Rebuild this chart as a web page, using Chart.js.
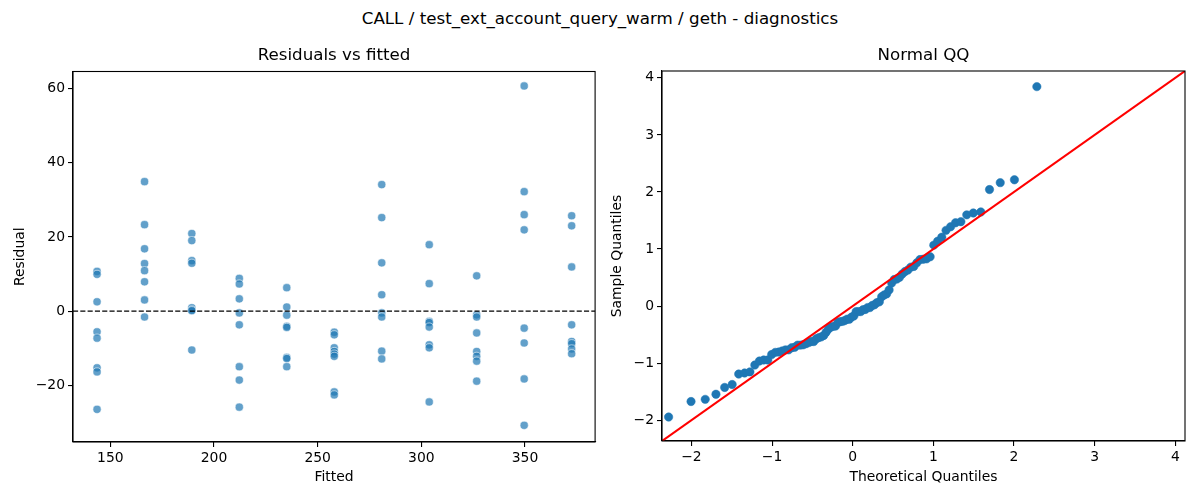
<!DOCTYPE html>
<html>
<head>
<meta charset="utf-8">
<script src="https://cdn.jsdelivr.net/npm/chart.js@4.4.1/dist/chart.umd.min.js"></script>
<style>
  body { margin: 0; background: #fff; font-family: "DejaVu Sans", sans-serif; }
  #page { position: relative; width: 1200px; height: 500px; overflow: hidden; }
  #suptitle { position: absolute; left: 0; top: 8px; width: 1200px; text-align: center;
              font-size: 16.7px; line-height: 20px; color: #000; }
  .box { position: absolute; top: 40px; width: 600px; height: 460px; }
</style>
</head>
<body>
<div id="page">
  <div id="suptitle">CALL / test_ext_account_query_warm / geth - diagnostics</div>
  <div class="box" style="left:0"><canvas id="resid"></canvas></div>
  <div class="box" style="left:600px"><canvas id="qq"></canvas></div>
</div>
<script>
// fitted value of each group (x positions of the columns)
const fitted = [143.6, 166.5, 189.3, 212.2, 235.1, 258.0, 280.9, 303.8, 326.7, 349.6, 372.5];

// residuals, one list per fitted value
const residuals = [
  [10.7, 9.9, 2.5, -5.6, -7.3, -15.3, -16.4, -26.5],
  [34.9, 23.3, 16.8, 12.8, 10.9, 7.9, 3.0, -1.6],
  [20.9, 19.0, 13.6, 12.9, 0.9, 0.3, 0.1, -10.5],
  [8.8, 7.3, 3.3, -0.5, -3.7, -15.0, -18.6, -25.9],
  [6.3, 1.1, -1.1, -4.1, -4.4, -12.5, -12.8, -15.0],
  [-5.7, -6.4, -9.9, -10.9, -11.6, -12.2, -21.8, -22.6],
  [34.1, 25.2, 13.0, 4.4, -0.5, -1.6, -10.8, -12.9],
  [17.9, 7.4, -2.8, -3.1, -4.3, -9.1, -9.9, -24.5],
  [9.5, -1.0, -1.6, -5.9, -10.9, -12.2, -13.5, -18.9],
  [60.7, 32.2, 26.0, 21.9, -4.6, -8.6, -18.3, -30.8],
  [25.7, 23.0, 11.9, -3.7, -8.2, -8.8, -10.2, -11.5]
];

// normal QQ panel
const theoretical = [
  -2.283, -2.005, -1.829, -1.696, -1.588, -1.495, -1.414, -1.341, -1.275, -1.214, -1.157,
  -1.104, -1.053, -1.005, -0.960, -0.916, -0.874, -0.834, -0.795, -0.757, -0.720, -0.684,
  -0.649, -0.614, -0.580, -0.547, -0.515, -0.483, -0.451, -0.420, -0.390, -0.359, -0.330,
  -0.300, -0.271, -0.242, -0.213, -0.184, -0.156, -0.127, -0.099, -0.070, -0.042, -0.014,
  0.014, 0.042, 0.070, 0.099, 0.127, 0.156, 0.184, 0.213, 0.242, 0.271, 0.300,
  0.330, 0.359, 0.390, 0.420, 0.451, 0.483, 0.515, 0.547, 0.580, 0.614, 0.649,
  0.684, 0.720, 0.757, 0.795, 0.834, 0.874, 0.916, 0.960, 1.005, 1.053, 1.104,
  1.157, 1.214, 1.275, 1.341, 1.414, 1.495, 1.588, 1.696, 1.829, 2.005, 2.283
];
const sample = [
  -1.945, -1.673, -1.635, -1.546, -1.426, -1.375, -1.192, -1.173, -1.154, -1.034, -0.964,
  -0.945, -0.945, -0.850, -0.812, -0.806, -0.787, -0.768, -0.768, -0.730, -0.723, -0.685,
  -0.685, -0.679, -0.660, -0.641, -0.622, -0.622, -0.572, -0.553, -0.540, -0.515, -0.458,
  -0.401, -0.369, -0.356, -0.350, -0.287, -0.274, -0.268, -0.255, -0.230, -0.230, -0.192,
  -0.173, -0.097, -0.097, -0.097, -0.065, -0.059, -0.027, -0.027, 0.011, 0.023, 0.061,
  0.074, 0.163, 0.194, 0.213, 0.283, 0.403, 0.466, 0.473, 0.504, 0.561, 0.606,
  0.631, 0.682, 0.694, 0.758, 0.815, 0.821, 0.827, 0.865, 1.068, 1.137, 1.207,
  1.327, 1.390, 1.460, 1.479, 1.599, 1.631, 1.650, 2.042, 2.163, 2.213, 3.846
];

// axis limits and ticks
const residX = [132, 383.8];
const residY = [-35.3, 64.6];
const residXTicks = [150, 200, 250, 300, 350];
const residYTicks = [-20, 0, 20, 40, 60];
const qqLim = [-2.365, 4.12];
const qqTicks = [-2, -1, 0, 1, 2, 3, 4];

Chart.defaults.font.family = "'DejaVu Sans', sans-serif";
Chart.defaults.color = "#000";

const fmt = v => String(v).replace("-", "\u2212");

// black box around the plot area, like matplotlib spines
const frame = {
  id: "frame",
  afterDraw(chart) {
    const {ctx, chartArea: a} = chart;
    ctx.save();
    ctx.strokeStyle = "#000";
    ctx.lineWidth = 1.1;
    ctx.strokeRect(a.left, a.top, a.right - a.left, a.bottom - a.top);
    ctx.restore();
  }
};

// axes title centred over the plot area (the built-in title centres over the canvas)
const axTitle = {
  id: "axTitle",
  afterDraw(chart, args, opts) {
    const {ctx, chartArea: a} = chart;
    ctx.save();
    ctx.fillStyle = "#000";
    ctx.font = "16.7px 'DejaVu Sans', sans-serif";
    ctx.textAlign = "center";
    ctx.textBaseline = "middle";
    ctx.fillText(opts.text, (a.left + a.right) / 2, opts.y);
    ctx.restore();
  }
};

// dashed zero line on the residual panel
const zeroLine = {
  id: "zeroLine",
  afterDatasetsDraw(chart) {
    const {ctx, chartArea: a, scales} = chart;
    const y = scales.y.getPixelForValue(0);
    ctx.save();
    ctx.strokeStyle = "#000";
    ctx.lineWidth = 1.4;
    ctx.setLineDash([5.1, 2.2]);
    ctx.beginPath();
    ctx.moveTo(a.left, y);
    ctx.lineTo(a.right, y);
    ctx.stroke();
    ctx.restore();
  }
};

function axis(lim, ticks, extra) {
  return Object.assign({
    type: "linear",
    min: lim[0],
    max: lim[1],
    afterBuildTicks: s => { s.ticks = ticks.map(v => ({value: v})); },
    grid: { display: true, drawOnChartArea: false, drawTicks: true, tickLength: 5, color: "#000", lineWidth: 1.1 },
    border: { display: true, color: "#000", width: 1.1 },
    ticks: { font: { size: 13.9 }, callback: fmt, maxRotation: 0, autoSkip: false }
  }, extra);
}

{
  const points = [];
  fitted.forEach((f, i) => residuals[i].forEach(r => points.push({x: f, y: r})));

  new Chart("resid", {
    type: "scatter",
    data: {
      datasets: [{
        data: points,
        backgroundColor: "rgba(31,119,180,0.7)",
        borderColor: "rgba(255,255,255,0.7)",
        borderWidth: 0.8,
        pointRadius: 4.1,
        pointHoverRadius: 4.1
      }]
    },
    options: {
      responsive: true,
      maintainAspectRatio: false,
      animation: false,
      layout: { padding: { left: 0, right: 3, top: 31.5, bottom: 0 } },
      plugins: {
        legend: { display: false },
        tooltip: { enabled: false },
        axTitle: { text: "Residuals vs fitted", y: 16 }
      },
      scales: {
        x: axis(residX, residXTicks, {
          afterFit: s => { s.height = 58; },
          title: { display: true, text: "Fitted", font: { size: 13.9 }, padding: { top: 0, bottom: 14 } }
        }),
        y: axis(residY, residYTicks, {
          afterFit: s => { s.width = 73; },
          title: { display: true, text: "Residual", font: { size: 13.9 }, padding: { top: 12.5, bottom: 0 } }
        })
      }
    },
    plugins: [zeroLine, frame, axTitle]
  });
}

{
  const points = theoretical.map((t, i) => ({x: t, y: sample[i]}));

  new Chart("qq", {
    type: "scatter",
    data: {
      datasets: [{
        type: "line",
        data: [{x: qqLim[0], y: qqLim[0]}, {x: qqLim[1], y: qqLim[1]}],
        borderColor: "#ff0000",
        borderWidth: 2.1,
        pointRadius: 0,
        fill: false,
        order: 0
      }, {
        data: points,
        backgroundColor: "#1f77b4",
        borderColor: "#1f77b4",
        borderWidth: 0.5,
        pointRadius: 4.2,
        pointHoverRadius: 4.2,
        order: 1
      }]
    },
    options: {
      responsive: true,
      maintainAspectRatio: false,
      animation: false,
      layout: { padding: { left: 0, right: 15, top: 31, bottom: 0 } },
      plugins: {
        legend: { display: false },
        tooltip: { enabled: false },
        axTitle: { text: "Normal QQ", y: 16 }
      },
      scales: {
        x: axis(qqLim, qqTicks, {
          afterFit: s => { s.height = 59; },
          title: { display: true, text: "Theoretical Quantiles", font: { size: 13.9 }, padding: { top: 0, bottom: 14 } }
        }),
        y: axis(qqLim, qqTicks, {
          afterFit: s => { s.width = 62; },
          title: { display: true, text: "Sample Quantiles", font: { size: 13.9 }, padding: { top: 9, bottom: 0 } }
        })
      }
    },
    plugins: [frame, axTitle]
  });
}
</script>
</body>
</html>
